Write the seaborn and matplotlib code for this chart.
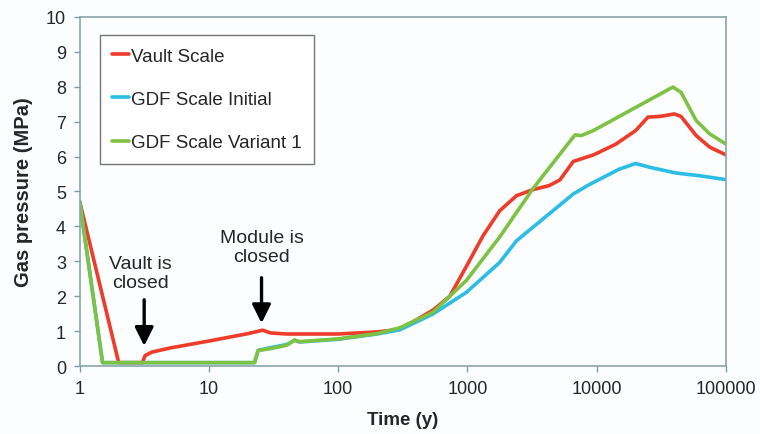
import numpy as np
import pandas as pd
import matplotlib
matplotlib.use('Agg')
import matplotlib.pyplot as plt
import seaborn as sns

# data
vault_time = [1, 2, 3.05, 3.2, 3.6, 5, 10, 20, 26, 30, 40, 100, 200, 300, 540, 730, 980,
              1320, 1780, 2400, 3200, 4300, 5200, 6600, 9500, 14000, 20000, 25000, 31000,
              40000, 45000, 59000, 75000, 100000]
vault_p = [4.7, 0.1, 0.1, 0.3, 0.4, 0.52, 0.72, 0.93, 1.03, 0.95, 0.92, 0.92, 0.98, 1.05, 1.6,
           2.0, 2.85, 3.73, 4.45, 4.88, 5.05, 5.17, 5.33, 5.86, 6.05, 6.35, 6.74, 7.13, 7.15,
           7.22, 7.15, 6.6, 6.27, 6.05]

initial_time = [1, 1.5, 22.5, 24, 30, 40, 46, 50, 100, 200, 300, 540, 980, 1780, 2400, 3200,
                6600, 8900, 15000, 20000, 26000, 41000, 63000, 100000]
initial_p = [4.7, 0.1, 0.1, 0.45, 0.53, 0.62, 0.74, 0.69, 0.77, 0.92, 1.04, 1.49, 2.11, 2.97,
             3.59, 3.97, 4.93, 5.21, 5.64, 5.8, 5.69, 5.53, 5.45, 5.34]

variant_time = [1, 1.5, 22.5, 24, 30, 40, 46, 50, 100, 200, 300, 540, 980, 1780, 3200, 6800,
                7600, 9400, 39000, 45000, 59000, 75000, 100000]
variant_p = [4.7, 0.1, 0.1, 0.45, 0.5, 0.6, 0.75, 0.7, 0.78, 0.93, 1.1, 1.54, 2.45, 3.7, 5.07,
             6.62, 6.6, 6.74, 7.99, 7.84, 7.03, 6.65, 6.36]

series = ['Vault Scale', 'GDF Scale Initial', 'GDF Scale Variant 1']
colors = ['#ee3b2a', '#2bbde6', '#7dc242']
x_ticks = [1, 10, 100, 1000, 10000, 100000]

df = pd.concat([
    pd.DataFrame({'time': vault_time, 'pressure': vault_p, 'series': series[0]}),
    pd.DataFrame({'time': initial_time, 'pressure': initial_p, 'series': series[1]}),
    pd.DataFrame({'time': variant_time, 'pressure': variant_p, 'series': series[2]}),
], ignore_index=True)

sns.set_style('white')
plt.rcParams['font.family'] = ['Liberation Sans', 'DejaVu Sans']

fig = plt.figure(figsize=(7.6, 4.35), dpi=100)
fig.patch.set_facecolor('#fcfdfe')
ax = fig.add_axes([0.105, 0.156, 0.85, 0.803])
ax.set_facecolor('#fcfdfe')

sns.lineplot(data=df, x='time', y='pressure', hue='series', hue_order=series,
             palette=colors, linewidth=2.6, sort=False, estimator=None, ax=ax)

ax.set_xscale('log')
ax.set_xlim(1, 100000)
ax.set_ylim(0, 10)
ax.xaxis.set_major_locator(matplotlib.ticker.FixedLocator(x_ticks))
ax.xaxis.set_minor_locator(matplotlib.ticker.NullLocator())
ax.set_xticklabels([str(t) for t in x_ticks])
ax.set_yticks(range(0, 11))
ax.tick_params(axis='both', labelsize=13, direction='out', length=4, width=1,
               color='#7f9aa5', left=True, bottom=True, pad=6)
for s in ax.spines.values():
    s.set_color('#8aa3ad')
    s.set_linewidth(1.2)

ax.set_xlabel('Time (y)', fontsize=13.5, fontweight='bold', labelpad=10)
ax.set_ylabel('Gas pressure (MPa)', fontsize=14.5, fontweight='bold', labelpad=9)

# annotations
arrow = dict(arrowstyle='-|>,head_length=0.7,head_width=0.35', color='black', lw=2.4,
             mutation_scale=16)
ax.annotate('', xy=(3.15, 0.5), xytext=(3.15, 1.98), arrowprops=arrow)
ax.text(2.95, 2.66, 'Vault is\nclosed', ha='center', va='center', fontsize=14,
        linespacing=1.15)
ax.annotate('', xy=(25.5, 1.15), xytext=(25.5, 2.61), arrowprops=arrow)
ax.text(25.5, 3.41, 'Module is\nclosed', ha='center', va='center', fontsize=14,
        linespacing=1.15)

leg = ax.legend(loc='upper left', bbox_to_anchor=(0.031, 0.947), fontsize=13.5,
                frameon=True, fancybox=False, edgecolor='#777777', framealpha=1,
                handlelength=0.9, handletextpad=0.12, labelspacing=1.4, borderpad=0.65,
                borderaxespad=0)
leg.get_frame().set_linewidth(1.0)
for line in leg.get_lines():
    line.set_linewidth(2.6)

fig.savefig('out.png', dpi=100, facecolor=fig.get_facecolor())
